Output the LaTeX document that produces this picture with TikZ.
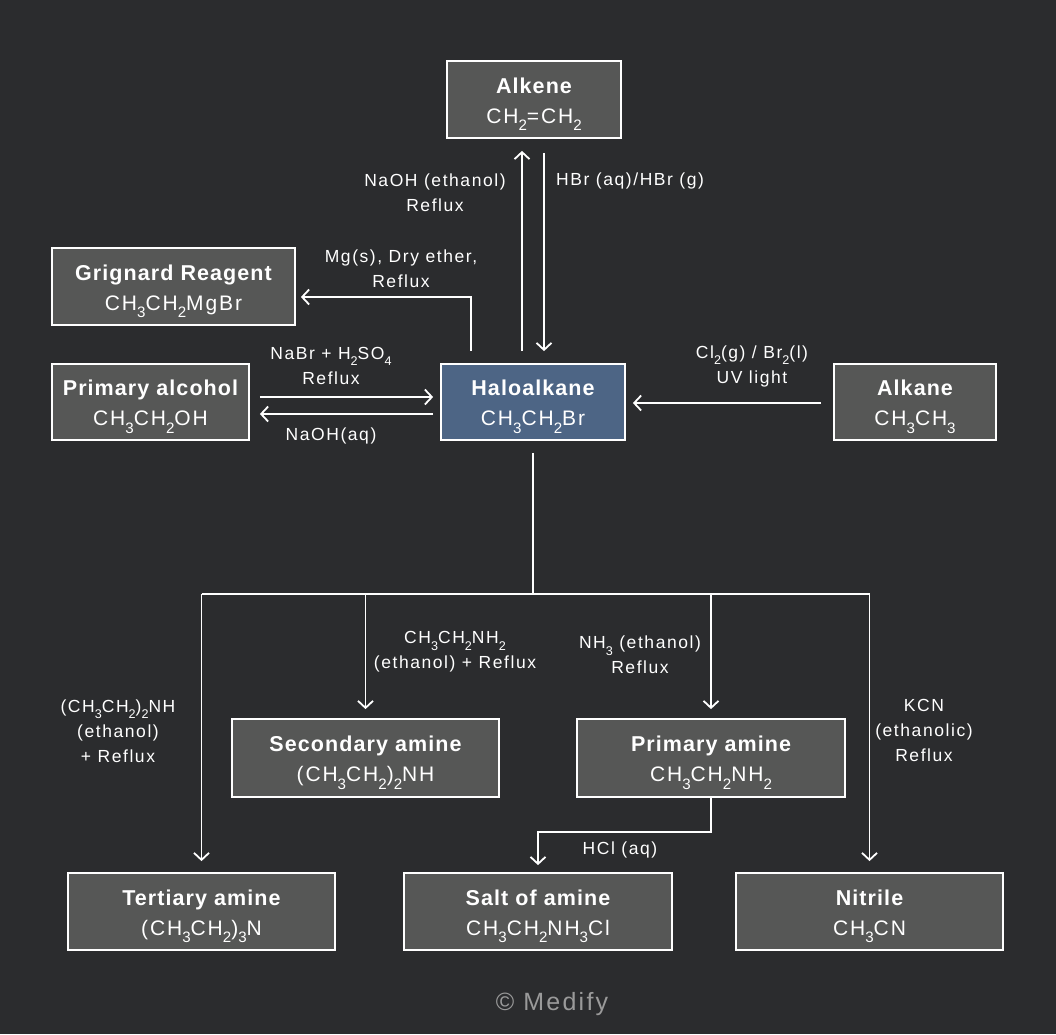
\documentclass[tikz,border=0pt]{standalone}
\usepackage{fontspec}
\setmainfont{Liberation Sans}[LetterSpace=9, BoldFeatures={LetterSpace=5}]
\usetikzlibrary{arrows.meta}
\definecolor{bg}{HTML}{2B2C2E}
\definecolor{boxfill}{HTML}{565756}
\definecolor{halofill}{HTML}{4D6585}
\definecolor{copygray}{HTML}{9A9A9A}
\tikzset{
  chem/.style={draw=white, line width=1.8pt, fill=boxfill, text=white, align=center,
    inner sep=0pt, font=\fontsize{21}{30}\selectfont},
  lbl/.style={text=white, align=center, inner sep=0pt, font=\fontsize{17.5}{25}\selectfont},
  conn/.style={draw=white, line width=1.8pt, -{Straight Barb[length=7pt,width=15pt,line width=1.8pt]}},
  plainline/.style={draw=white, line width=1.8pt},
}
\newcommand{\ttl}[1]{{\bfseries\fontsize{21.5}{30}\selectfont\rule{0pt}{25pt}#1}}
\newcommand{\sbs}[1]{\raisebox{-0.36em}{\scalebox{0.72}{#1}}}
\begin{document}
\begin{tikzpicture}[x=1pt,y=-1pt]
\fill[bg] (0,0) rectangle (1056,1034);
\useasboundingbox (0,0) rectangle (1056,1034);

% boxes
\node[chem, minimum width=174pt, minimum height=77pt] (alkene) at (534,99.5)
  {\ttl{Alkene}\\CH\sbs{2}=CH\sbs{2}};
\node[chem, minimum width=243pt, minimum height=77pt] (grig) at (173.5,286.5)
  {\ttl{Grignard Reagent}\\CH\sbs{3}CH\sbs{2}MgBr};
\node[chem, minimum width=197pt, minimum height=76pt] (alc) at (150.5,402)
  {\ttl{Primary alcohol}\\CH\sbs{3}CH\sbs{2}OH};
\node[chem, fill=halofill, minimum width=184pt, minimum height=76pt] (halo) at (533,402)
  {\ttl{Haloalkane}\\CH\sbs{3}CH\sbs{2}Br};
\node[chem, minimum width=162pt, minimum height=76pt] (alkane) at (915,402)
  {\ttl{Alkane}\\CH\sbs{3}CH\sbs{3}};
\node[chem, minimum width=267pt, minimum height=78pt] (sec) at (365.5,758)
  {\ttl{Secondary amine}\\(CH\sbs{3}CH\sbs{2})\sbs{2}NH};
\node[chem, minimum width=268pt, minimum height=78pt] (prim) at (711,758)
  {\ttl{Primary amine}\\CH\sbs{3}CH\sbs{2}NH\sbs{2}};
\node[chem, minimum width=267pt, minimum height=77pt] (tert) at (201.5,911.5)
  {\ttl{Tertiary amine}\\(CH\sbs{3}CH\sbs{2})\sbs{3}N};
\node[chem, minimum width=268pt, minimum height=77pt] (salt) at (538,911.5)
  {\ttl{Salt of amine}\\CH\sbs{3}CH\sbs{2}NH\sbs{3}Cl};
\node[chem, minimum width=267pt, minimum height=77pt] (nit) at (869.5,911.5)
  {\ttl{Nitrile}\\CH\sbs{3}CN};

% haloalkane <-> alkene
\draw[conn] ([xshift=-11pt,yshift=12pt]halo.north) -- ([xshift=-12pt,yshift=-12pt]alkene.south);
\draw[conn] ([xshift=10pt,yshift=-14pt]alkene.south) -- ([xshift=11pt,yshift=12pt]halo.north);
\node[lbl] (l1) at (435,193) {NaOH (ethanol)\\Reflux};
\node[lbl, anchor=west] (l2) at (556,181) {HBr (aq)/HBr (g)};

% grignard
\draw[conn] ([xshift=-62pt,yshift=12pt]halo.north) |- ([xshift=5pt,yshift=-10.5pt]grig.east);
\node[lbl] (l3) at (401,269) {Mg(s), Dry ether,\\Reflux};

% alcohol
\draw[conn] ([xshift=10pt,yshift=5pt]alc.east) -- ([xshift=-7pt,yshift=5pt]halo.west);
\draw[conn] ([xshift=-7pt,yshift=-12pt]halo.west) -- ([xshift=10pt,yshift=-12pt]alc.east);
\node[lbl] (l4) at (331,366) {NaBr + H\sbs{2}SO\sbs{4}\\Reflux};
\node[lbl] (l5) at (331,436) {NaOH(aq)};

% alkane
\draw[conn] ([xshift=-12pt,yshift=-1pt]alkane.west) -- ([xshift=7pt,yshift=-1pt]halo.east);
\node[lbl] (l6) at (752,366) {Cl\sbs{2}(g) / Br\sbs{2}(l)\\UV light};

% tree
\coordinate (split) at (533,594);
\draw[plainline] ([yshift=-12pt]halo.south) -- (split);
\draw[plainline] (tert.north |- split) -- (nit.north |- split);
\draw[conn] (tert.north |- split) -- ([yshift=11pt]tert.north);
\draw[conn] (sec.north |- split) -- ([yshift=9pt]sec.north);
\draw[conn] (prim.north |- split) -- ([yshift=9pt]prim.north);
\draw[conn] (nit.north |- split) -- ([yshift=11pt]nit.north);
\node[lbl] (l7) at (455,652) {CH\sbs{3}CH\sbs{2}NH\sbs{2}\\(ethanol) + Reflux};
\node[lbl] (l8) at (640,655) {NH\sbs{3} (ethanol)\\Reflux};
\node[lbl] (l9) at (118,731) {(CH\sbs{3}CH\sbs{2})\sbs{2}NH\\(ethanol)\\+ Reflux};
\node[lbl] (l10) at (924,730) {KCN\\(ethanolic)\\Reflux};

% primary amine -> salt
\coordinate (bend) at (711,832);
\draw[conn] (prim.south) -- (bend) -| ([yshift=7pt]salt.north);
\node[lbl] (l11) at (620,850) {HCl (aq)};

\node[text=copygray, inner sep=0pt, font=\fontsize{25}{30}\selectfont] (copy) at (552,1004) {© Medify};
\end{tikzpicture}
\end{document}
